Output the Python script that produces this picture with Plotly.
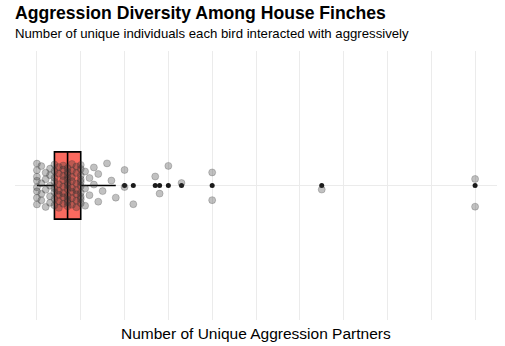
import numpy as np
import plotly.graph_objects as go

# Number of unique aggression partners per bird, as (value, how many birds)
partner_values = [0, 1, 2, 3, 4, 5, 6, 7, 8, 9, 10, 11, 12, 13, 14, 15, 16, 17, 18,
                  20, 22, 27, 28, 30, 33, 40, 65, 100]
bird_counts = [8, 4, 4, 5, 8, 7, 8, 11, 8, 7, 10, 3, 2, 2, 2, 1, 1, 1, 1,
               2, 1, 1, 1, 1, 1, 2, 1, 2]

title_text = "Aggression Diversity Among House Finches"
subtitle_text = "Number of unique individuals each bird interacted with aggressively"
x_title = "Number of Unique Aggression Partners"
grid_breaks = list(range(0, 101, 10))

partners = np.repeat(partner_values, bird_counts).astype(float)

# Tukey box statistics (type-7 quantiles)
q1, med, q3 = np.percentile(partners, [25, 50, 75])
iqr = q3 - q1
lo_fence = partners[partners >= q1 - 1.5 * iqr].min()
hi_fence = partners[partners <= q3 + 1.5 * iqr].max()
outliers = np.unique(partners[(partners < q1 - 1.5 * iqr) | (partners > q3 + 1.5 * iqr)])

# deterministic vertical jitter (golden-ratio sequence), +/- 0.1
n = len(partners)
jitter = (((np.arange(n) * 0.6180339887 + 0.37) % 1.0) * 2 - 1) * 0.1

font = "Liberation Sans, Arial, Helvetica, sans-serif"
grid_col = "#EBEBEB"

fig = go.Figure()

fig.add_trace(go.Box(
    y=[0], q1=[q1], median=[med], q3=[q3],
    lowerfence=[lo_fence], upperfence=[hi_fence],
    orientation="h", width=0.3, whiskerwidth=0,
    fillcolor="#FB6A5F", line=dict(color="black", width=1.6),
    boxpoints=False, hoverinfo="skip", showlegend=False,
))

fig.add_trace(go.Scatter(
    x=outliers, y=np.zeros(len(outliers)), mode="markers",
    marker=dict(color="#1a1a1a", size=5, line=dict(width=0)),
    showlegend=False, hoverinfo="skip",
))

fig.add_trace(go.Scatter(
    x=partners, y=jitter, mode="markers",
    marker=dict(color="rgba(50,50,50,0.3)", size=7,
                line=dict(color="rgba(50,50,50,0.3)", width=0.8)),
    showlegend=False, hoverinfo="skip",
))

fig.update_layout(
    width=505, height=346,
    margin=dict(l=15, r=8, t=51, b=26),
    paper_bgcolor="white", plot_bgcolor="white",
    font=dict(family=font, color="black"),
    xaxis=dict(range=[-5, 105], tickvals=grid_breaks, showticklabels=False,
               showgrid=True, gridcolor=grid_col, gridwidth=1.2,
               zeroline=False, showline=False, ticks=""),
    yaxis=dict(range=[-0.6, 0.6], tickvals=[0], showticklabels=False,
               showgrid=True, gridcolor=grid_col, gridwidth=1.2,
               zeroline=False, showline=False, ticks=""),
    annotations=[
        dict(text="<b>" + title_text + "</b>", xref="paper", yref="paper",
             x=0, y=1 + 38 / 269, xanchor="left", yanchor="middle", xshift=-2,
             showarrow=False, font=dict(size=17.6, family=font, color="black")),
        dict(text=subtitle_text, xref="paper", yref="paper",
             x=0, y=1 + 18 / 269, xanchor="left", yanchor="middle", xshift=-2.5,
             showarrow=False, font=dict(size=13.2, family=font, color="black")),
        dict(text=x_title, xref="paper", yref="paper",
             x=0.5, y=-13 / 269, xanchor="center", yanchor="middle",
             showarrow=False, font=dict(size=15.5, family=font, color="black")),
    ],
)

fig.write_html("out.html")
